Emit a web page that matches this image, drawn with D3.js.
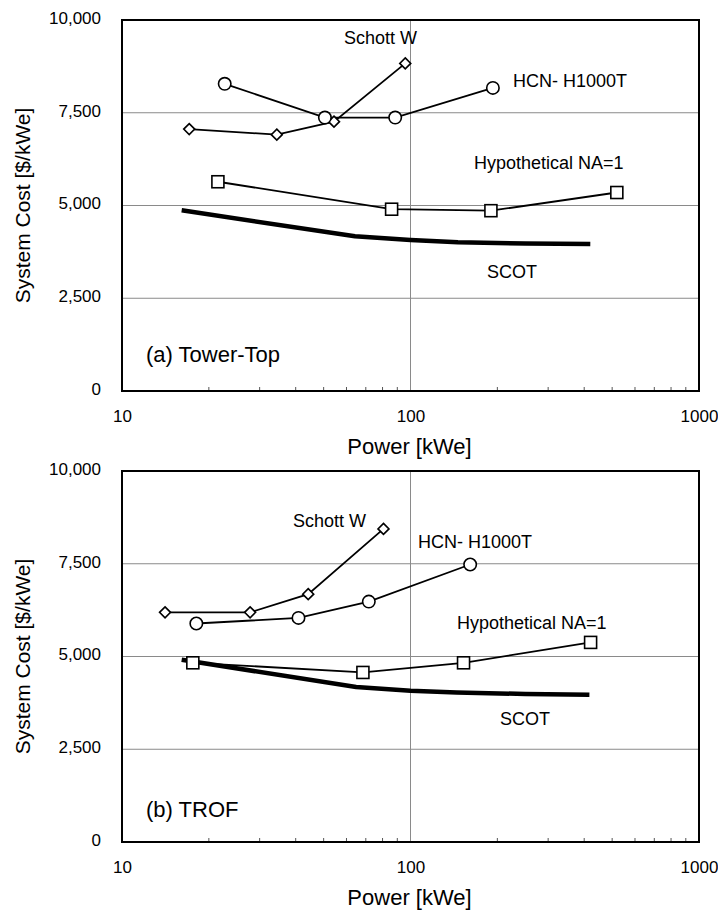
<!DOCTYPE html>
<html>
<head>
<meta charset="utf-8">
<script src="https://cdn.jsdelivr.net/npm/d3@7/dist/d3.min.js"></script>
<style>
  body { margin: 0; background: #fff; }
  svg { display: block; }
  text { font-family: "Liberation Sans", Arial, Helvetica, sans-serif; fill: #000; }
</style>
</head>
<body>
<div id="chart"></div>
<script>
// ---- data: [power kWe, cost $/kWe] ----
const towerSchottW = [[17.1, 7060], [34.4, 6910], [54.3, 7260], [95.9, 8830]];
const towerHCN     = [[22.7, 8280], [50.5, 7370], [88.5, 7370], [193, 8170]];
const towerHypo    = [[21.5, 5640], [86, 4900], [190, 4860], [519, 5350]];
const towerSCOT    = [[16.1, 4870], [64.2, 4170], [100, 4070], [146, 4010], [250, 3975], [420, 3960]];

const trofSchottW  = [[14.1, 6190], [27.8, 6190], [44.2, 6680], [80.6, 8440]];
const trofHCN      = [[18.1, 5890], [40.9, 6040], [71.7, 6480], [161, 7480]];
const trofHypo     = [[17.6, 4830], [68.4, 4570], [152.7, 4830], [421, 5380]];
const trofSCOT     = [[16.1, 4910], [64.8, 4180], [100, 4080], [144.6, 4030], [250, 3990], [417, 3970]];

const yTicks = [0, 2500, 5000, 7500, 10000];
const xTicks = [10, 100, 1000];
const xMinor = [20, 30, 40, 50, 60, 70, 80, 90, 200, 300, 400, 500, 600, 700, 800, 900];

const W = 718, H = 911;
const svg = d3.select('#chart').append('svg').attr('width', W).attr('height', H);

function drawPanel(cfg) {
    const x = d3.scaleLog().domain([10, 1000]).range([122, 699]);
    const y = d3.scaleLinear().domain([0, 10000]).range([cfg.bottom, cfg.top]);
    const g = svg.append('g');

    // grid lines
    g.selectAll('.hgrid').data(yTicks.slice(1, -1)).enter().append('line')
        .attr('x1', x(10)).attr('x2', x(1000))
        .attr('y1', d => y(d)).attr('y2', d => y(d))
        .attr('stroke', '#8a8a8a').attr('stroke-width', 1);
    g.append('line')
        .attr('x1', x(100)).attr('x2', x(100))
        .attr('y1', y(0)).attr('y2', y(10000))
        .attr('stroke', '#8a8a8a').attr('stroke-width', 1);

    // minor ticks on the bottom axis
    g.selectAll('.minor').data(xMinor).enter().append('line')
        .attr('x1', d => x(d)).attr('x2', d => x(d))
        .attr('y1', y(0)).attr('y2', y(0) - 4)
        .attr('stroke', '#555').attr('stroke-width', 1);

    // axes
    const ya = g.append('g').attr('transform', `translate(${x(10)},0)`)
        .call(d3.axisLeft(y).tickValues(yTicks).tickFormat(d3.format(',')).tickSize(0).tickPadding(21));
    ya.select('.domain').remove();
    ya.selectAll('text').style('font-size', '17px').attr('dy', '0.2em');

    const xa = g.append('g').attr('transform', `translate(0,${y(0)})`)
        .call(d3.axisBottom(x).tickValues(xTicks).tickFormat(d3.format('d')).tickSize(0).tickPadding(19));
    xa.select('.domain').remove();
    xa.selectAll('text').style('font-size', '17px');

    // frame
    g.append('rect')
        .attr('x', x(10)).attr('y', y(10000))
        .attr('width', x(1000) - x(10)).attr('height', y(0) - y(10000))
        .attr('fill', 'none').attr('stroke', '#000').attr('stroke-width', 2);

    // axis titles
    g.append('text')
        .attr('x', (x(10) + x(1000)) / 2 - 1).attr('y', y(0) + 63)
        .attr('text-anchor', 'middle').style('font-size', '22px')
        .text('Power [kWe]');
    g.append('text')
        .attr('transform', `translate(30,${(y(0) + y(10000)) / 2}) rotate(-90)`)
        .attr('text-anchor', 'middle').style('font-size', '21px')
        .text('System Cost [$/kWe]');

    const line = d3.line().x(d => x(d[0])).y(d => y(d[1]));

    // SCOT thick line
    g.append('path').datum(cfg.scot).attr('d', line)
        .attr('fill', 'none').attr('stroke', '#000').attr('stroke-width', 4.5)
        .attr('stroke-linejoin', 'round');

    // series lines
    [cfg.hypo, cfg.schott, cfg.hcn].forEach(s => {
        g.append('path').datum(s).attr('d', line)
            .attr('fill', 'none').attr('stroke', '#000').attr('stroke-width', 1.8);
    });

    // markers
    g.selectAll('.sq').data(cfg.hypo).enter().append('rect')
        .attr('x', d => x(d[0]) - 6).attr('y', d => y(d[1]) - 6)
        .attr('width', 12).attr('height', 12)
        .attr('fill', '#fff').attr('stroke', '#000').attr('stroke-width', 1.6);
    g.selectAll('.dm').data(cfg.schott).enter().append('path')
        .attr('transform', d => `translate(${x(d[0])},${y(d[1])})`)
        .attr('d', 'M0,-5.5L5.5,0L0,5.5L-5.5,0Z')
        .attr('fill', '#fff').attr('stroke', '#000').attr('stroke-width', 1.6);
    g.selectAll('.ci').data(cfg.hcn).enter().append('circle')
        .attr('cx', d => x(d[0])).attr('cy', d => y(d[1])).attr('r', 6.2)
        .attr('fill', '#fff').attr('stroke', '#000').attr('stroke-width', 1.6);

    // series labels
    cfg.labels.forEach(l => {
        g.append('text').attr('x', l[1]).attr('y', l[2])
            .style('font-size', l[3] + 'px').text(l[0]);
    });
}

drawPanel({
    top: 20, bottom: 391,
    schott: towerSchottW, hcn: towerHCN, hypo: towerHypo, scot: towerSCOT,
    labels: [
        ['Schott W', 344, 44, 18],
        ['HCN- H1000T', 513, 87, 18],
        ['Hypothetical NA=1', 474, 169, 18],
        ['SCOT', 487, 278, 18],
        ['(a) Tower-Top', 146, 362, 22]
    ]
});

drawPanel({
    top: 471, bottom: 842,
    schott: trofSchottW, hcn: trofHCN, hypo: trofHypo, scot: trofSCOT,
    labels: [
        ['Schott W', 293, 527, 18],
        ['HCN- H1000T', 418, 548, 18],
        ['Hypothetical NA=1', 457, 629, 18],
        ['SCOT', 500, 725, 18],
        ['(b) TROF', 146, 817, 22]
    ]
});
</script>
</body>
</html>
